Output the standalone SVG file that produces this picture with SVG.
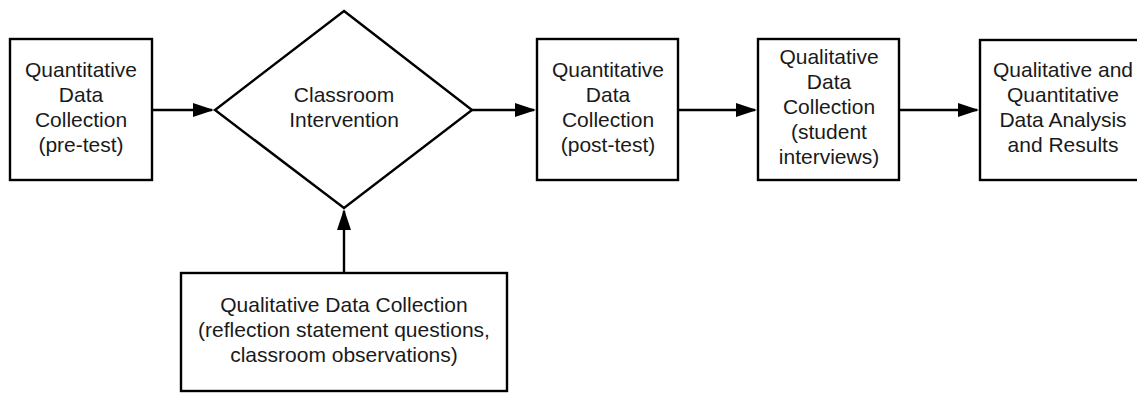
<svg xmlns="http://www.w3.org/2000/svg" width="1137" height="394" viewBox="0 0 1137 394">
<defs>
<marker id="ah" markerUnits="userSpaceOnUse" markerWidth="22" markerHeight="14" refX="19" refY="7" orient="auto">
<path d="M0,0 L21,7 L0,14 z" fill="#000"/>
</marker>
<style>
.n{fill:#fff;stroke:#000;stroke-width:2.4}
.t{font-family:"Liberation Sans",Arial,sans-serif;font-size:21px;fill:#1a1a1a;text-anchor:middle}
.c{stroke:#000;stroke-width:2.4;fill:none;marker-end:url(#ah)}
</style>
</defs>
<rect width="1137" height="394" fill="#fff"/>
<g id="connectors">
<line class="c" x1="152" y1="110" x2="212" y2="110"/>
<line class="c" x1="472" y1="110" x2="534" y2="110"/>
<line class="c" x1="678" y1="110" x2="755" y2="110"/>
<line class="c" x1="899" y1="110" x2="977" y2="110"/>
<line class="c" x1="344" y1="273" x2="344" y2="211"/>
</g>
<g id="pretest">
<rect class="n" x="10" y="39" width="142" height="141"/>
<text class="t" x="81"><tspan x="81" y="77">Quantitative</tspan><tspan x="81" y="102">Data</tspan><tspan x="81" y="127">Collection</tspan><tspan x="81" y="152">(pre-test)</tspan></text>
</g>
<g id="intervention">
<polygon class="n" points="344,11 472,110 344,208 215,110"/>
<text class="t" x="344"><tspan x="344" y="102">Classroom</tspan><tspan x="344" y="127">Intervention</tspan></text>
</g>
<g id="posttest">
<rect class="n" x="537" y="39" width="141" height="141"/>
<text class="t" x="608"><tspan x="608" y="77">Quantitative</tspan><tspan x="608" y="102">Data</tspan><tspan x="608" y="127">Collection</tspan><tspan x="608" y="152">(post-test)</tspan></text>
</g>
<g id="interviews">
<rect class="n" x="758" y="39" width="141" height="141"/>
<text class="t" x="829"><tspan x="829" y="64">Qualitative</tspan><tspan x="829" y="89">Data</tspan><tspan x="829" y="114">Collection</tspan><tspan x="829" y="139">(student</tspan><tspan x="829" y="164">interviews)</tspan></text>
</g>
<g id="analysis">
<rect class="n" x="980" y="40" width="168" height="140"/>
<text class="t" x="1063"><tspan x="1063" y="77">Qualitative and</tspan><tspan x="1063" y="102">Quantitative</tspan><tspan x="1063" y="127">Data Analysis</tspan><tspan x="1063" y="152">and Results</tspan></text>
</g>
<g id="reflection">
<rect class="n" x="181" y="273" width="326" height="118"/>
<text class="t" x="344"><tspan x="344" y="312">Qualitative Data Collection</tspan><tspan x="344" y="337">(reflection statement questions,</tspan><tspan x="344" y="362">classroom observations)</tspan></text>
</g>
</svg>
